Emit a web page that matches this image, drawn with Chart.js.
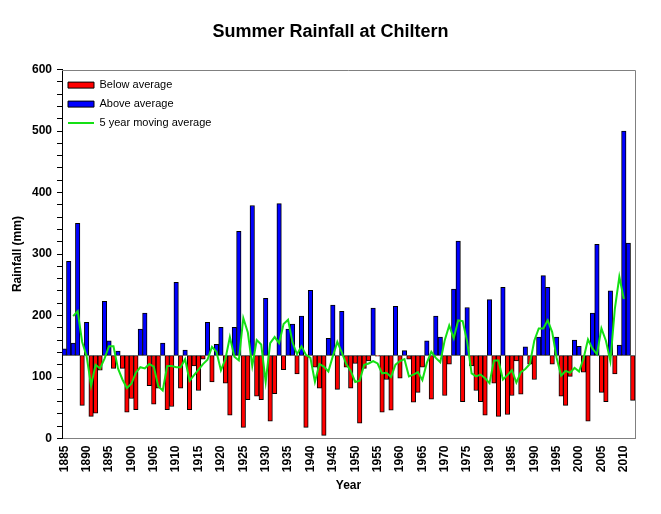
<!DOCTYPE html>
<html>
<head>
<meta charset="utf-8">
<title>Summer Rainfall at Chiltern</title>
<script src="https://cdn.jsdelivr.net/npm/chart.js@4.4.1/dist/chart.umd.min.js"></script>
<style>
  html, body { margin: 0; padding: 0; background: #fff; }
  #wrap { width: 661px; height: 514px; }
</style>
</head>
<body>
<div id="wrap"><canvas id="rain" width="661" height="514"></canvas></div>
<script>
const years = [
  1885, 1886, 1887, 1888, 1889, 1890, 1891, 1892, 1893, 1894,
  1895, 1896, 1897, 1898, 1899, 1900, 1901, 1902, 1903, 1904,
  1905, 1906, 1907, 1908, 1909, 1910, 1911, 1912, 1913, 1914,
  1915, 1916, 1917, 1918, 1919, 1920, 1921, 1922, 1923, 1924,
  1925, 1926, 1927, 1928, 1929, 1930, 1931, 1932, 1933, 1934,
  1935, 1936, 1937, 1938, 1939, 1940, 1941, 1942, 1943, 1944,
  1945, 1946, 1947, 1948, 1949, 1950, 1951, 1952, 1953, 1954,
  1955, 1956, 1957, 1958, 1959, 1960, 1961, 1962, 1963, 1964,
  1965, 1966, 1967, 1968, 1969, 1970, 1971, 1972, 1973, 1974,
  1975, 1976, 1977, 1978, 1979, 1980, 1981, 1982, 1983, 1984,
  1985, 1986, 1987, 1988, 1989, 1990, 1991, 1992, 1993, 1994,
  1995, 1996, 1997, 1998, 1999, 2000, 2001, 2002, 2003, 2004,
  2005, 2006, 2007, 2008, 2009, 2010, 2011, 2012
];

// summer rainfall (mm), one value per year
const rainfall = [
  146, 288, 155, 350, 54, 189, 36, 41, 111, 223,
  159, 114, 142, 114, 43, 65, 47, 178, 204, 86,
  56, 82, 155, 47, 52, 254, 82, 144, 47, 118,
  78, 129, 189, 92, 153, 181, 90, 38, 181, 337,
  18, 63, 379, 69, 63, 228, 28, 73, 382, 112,
  178, 186, 105, 199, 18, 241, 116, 82, 5, 163,
  217, 80, 207, 116, 82, 122, 25, 114, 126, 212,
  134, 43, 96, 46, 215, 98, 143, 129, 59, 75,
  116, 159, 64, 199, 165, 70, 121, 243, 321, 60,
  213, 118, 78, 60, 38, 226, 90, 36, 246, 39,
  70, 126, 72, 149, 121, 96, 165, 265, 246, 121,
  165, 69, 54, 101, 160, 150, 108, 28, 204, 316,
  75, 60, 240, 105, 152, 500, 318, 62
];

// green line (centred 5 year average)
const movingAverage = [
  null, null,
  199, 207, 157, 134, 86, 120, 114, 130, 150, 150,
  114, 96, 82, 89, 107, 116, 114, 121, 117, 85,
  78, 118, 118, 116, 116, 129, 94, 103, 112, 121,
  128, 149, 141, 111, 129, 165, 133, 127, 196, 173,
  118, 160, 153, 92, 155, 165, 155, 186, 193, 156,
  137, 150, 136, 131, 92, 121, 117, 109, 134, 157,
  140, 121, 110, 92, 94, 120, 122, 126, 122, 106,
  107, 100, 120, 126, 129, 101, 104, 108, 95, 123,
  141, 131, 124, 160, 184, 163, 192, 191, 158, 106,
  101, 104, 98, 90, 127, 127, 96, 103, 111, 91,
  108, 113, 121, 159, 179, 179, 192, 173, 131, 102,
  110, 107, 115, 109, 130, 161, 146, 137, 179, 159,
  126, 211, 263, 227,
  null, null
];

const average = 135;
const yLabels = [0, 100, 200, 300, 400, 500, 600];
const seriesNames = ['Below average', 'Above average', '5 year moving average'];
const legendShapes = ['rect', 'rect', 'line'];

const fontFamily = "'Liberation Sans', Arial, Helvetica, sans-serif";
Chart.defaults.font.family = fontFamily;
Chart.defaults.color = '#000';

const boldFont = { size: 12, weight: 'bold' };

// grey top and right edges of the plot box
const framePlugin = {
  id: 'frame',
  afterDatasetsDraw(chart) {
    const { ctx, chartArea } = chart;
    ctx.save();
    ctx.strokeStyle = '#808080';
    ctx.lineWidth = 1;
    ctx.beginPath();
    ctx.moveTo(chartArea.left, Math.round(chartArea.top) + 0.5);
    ctx.lineTo(Math.round(chartArea.right) + 0.5, Math.round(chartArea.top) + 0.5);
    ctx.lineTo(Math.round(chartArea.right) + 0.5, chartArea.bottom);
    ctx.stroke();
    ctx.restore();
  }
};

// the chartArea legend gets its top reset to 0, move it back inside the plot
const legendInside = {
  id: 'legendInside',
  afterLayout(chart) {
    const legend = chart.legend;
    if (!legend) {
      return;
    }
    const area = chart.chartArea;
    legend.left = area.left - 2;
    legend.top = area.top + 2;
    legend.right = legend.left + legend.width;
    legend.bottom = legend.top + legend.height;
  }
};

const barStyle = {
  borderColor: '#000000',
  borderWidth: 1,
  borderSkipped: false,
  categoryPercentage: 1,
  barPercentage: 1,
  grouped: false,
  order: 1,
};

new Chart(document.getElementById('rain'), {
  type: 'bar',
  data: {
    labels: years,
    datasets: [
      {
        ...barStyle,
        label: seriesNames[0],
        data: rainfall.map((value) => (value < average ? [value, average] : null)),
        backgroundColor: '#ff0000',
      },
      {
        ...barStyle,
        label: seriesNames[1],
        data: rainfall.map((value) => (value >= average ? [average, value] : null)),
        backgroundColor: '#0000ff',
      },
      {
        type: 'line',
        label: seriesNames[2],
        data: movingAverage,
        borderColor: '#14e014',
        backgroundColor: '#14e014',
        borderWidth: 2,
        pointRadius: 0,
        tension: 0,
        order: 0,
      },
    ],
  },
  options: {
    responsive: false,
    animation: false,
    layout: { padding: 0 },
    plugins: {
      title: {
        display: true,
        text: 'Summer Rainfall at Chiltern',
        font: { size: 18, weight: 'bold' },
        color: '#000',
        padding: { top: 21.5, bottom: 26.5 },
      },
      legend: {
        position: 'chartArea',
        align: 'start',
        labels: {
          usePointStyle: true,
          pointStyleWidth: 26,
          boxWidth: 26,
          boxHeight: 6,
          padding: 8,
          font: { size: 11 },
          color: '#000',
          sort: (a, b) => a.datasetIndex - b.datasetIndex,
          generateLabels: (chart) =>
            Chart.defaults.plugins.legend.labels.generateLabels(chart).map((item) => ({
              ...item,
              pointStyle: legendShapes[item.datasetIndex],
            })),
        },
      },
      tooltip: { enabled: false },
    },
    scales: {
      x: {
        type: 'category',
        grid: { drawOnChartArea: false, drawTicks: false },
        border: { color: '#808080' },
        ticks: {
          autoSkip: false,
          minRotation: 90,
          maxRotation: 90,
          padding: 7,
          font: boldFont,
          callback: (value, index) => (years[index] % 5 === 0 ? String(years[index]) : ''),
        },
        title: { display: true, text: 'Year', font: boldFont, padding: { top: 0, bottom: 21 } },
        afterFit: (scale) => { scale.height = 75.5; },
      },
      y: {
        min: 0,
        max: 600,
        grid: { drawOnChartArea: false, tickLength: 5, color: '#000' },
        border: { color: '#000' },
        ticks: {
          stepSize: 20,
          autoSkip: false,
          padding: 5,
          font: boldFont,
          callback: (value) => (yLabels.includes(value) ? String(value) : ''),
        },
        title: { display: true, text: 'Rainfall (mm)', font: boldFont, padding: { top: 10.5, bottom: 0 } },
        afterFit: (scale) => { scale.width = 62; },
      },
      y2: {
        position: 'right',
        grid: { display: false },
        border: { display: false },
        ticks: { display: false },
        afterFit: (scale) => { scale.width = 26; },
      },
    },
  },
  plugins: [framePlugin, legendInside],
});
</script>
</body>
</html>
